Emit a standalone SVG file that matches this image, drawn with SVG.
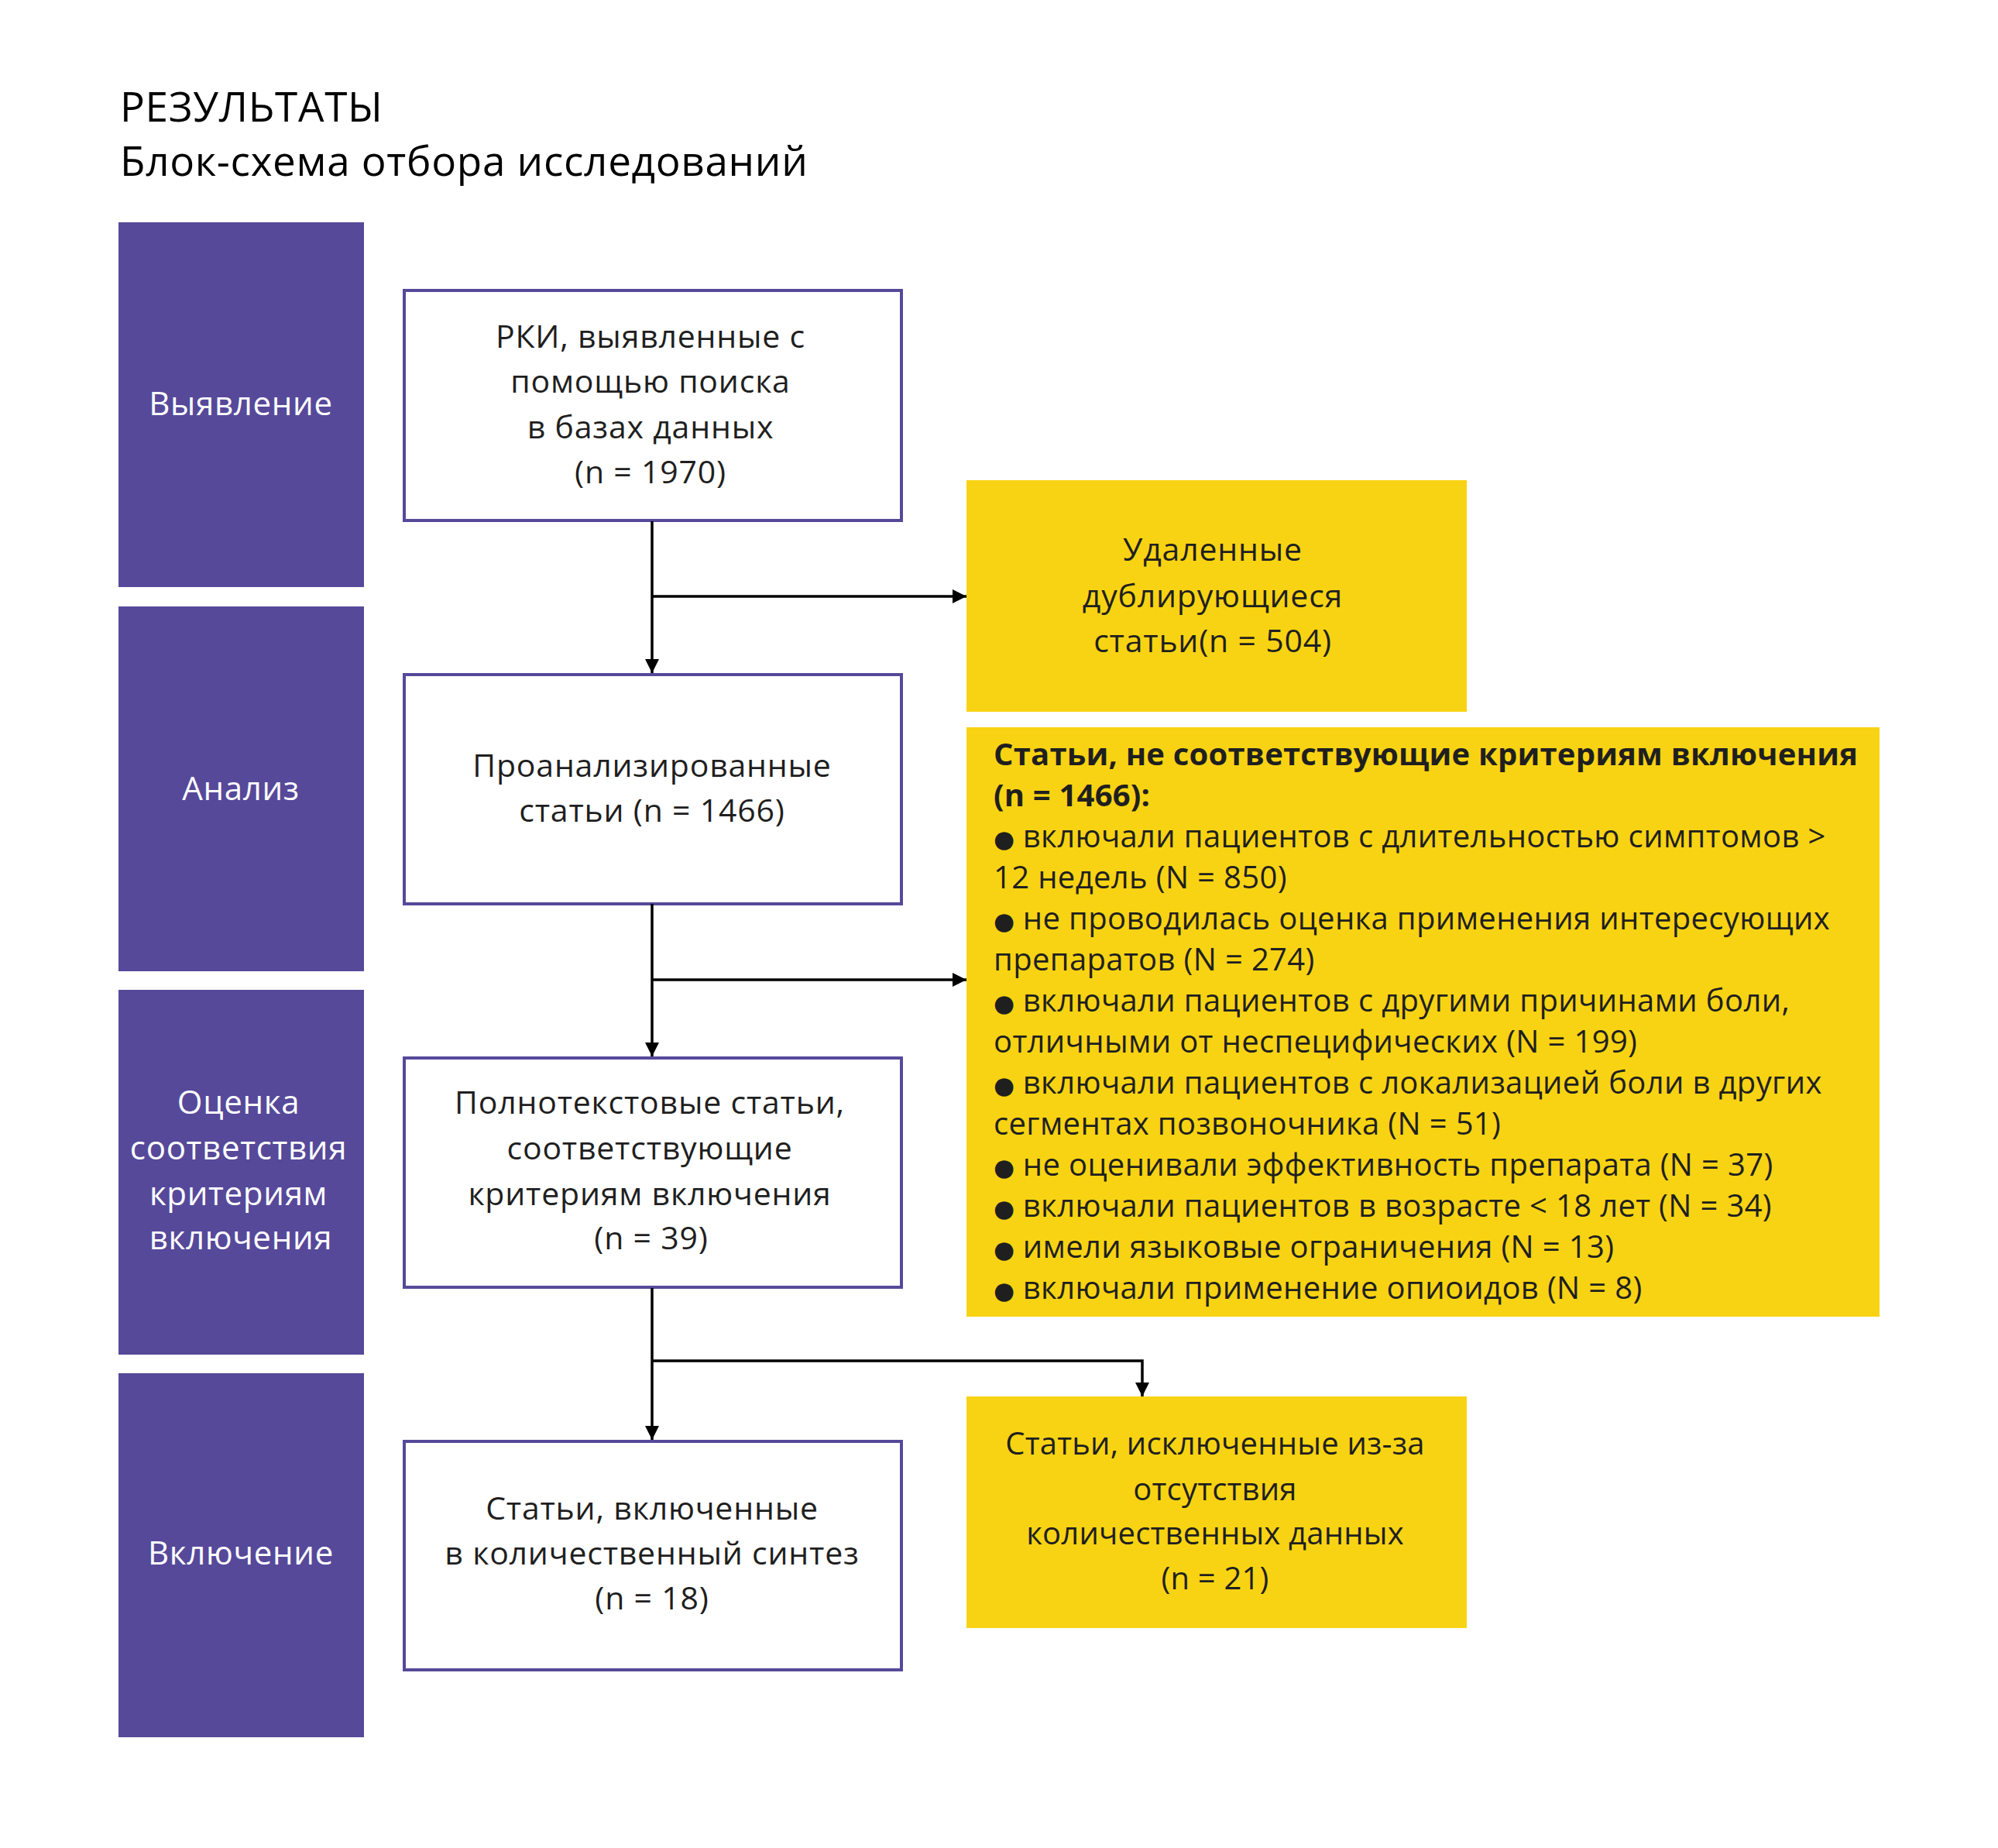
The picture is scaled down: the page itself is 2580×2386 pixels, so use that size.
<svg xmlns="http://www.w3.org/2000/svg" width="2580" height="2386" viewBox="0 0 2580 2386">
<defs>
<style>
.t{font-family:"Open Sans","Noto Sans","DejaVu Sans",sans-serif;font-size:41px;letter-spacing:0.8px;fill:#1f1f1f}
.l{font-size:40px;letter-spacing:0.35px}
.b{font-weight:bold;letter-spacing:0.2px}
.y3{font-size:40px;letter-spacing:0.2px}
.bu{font-size:31px;letter-spacing:0}
.tc{text-anchor:middle}
.w{fill:#ffffff;font-size:42px;letter-spacing:0.7px}
.title{font-family:"Open Sans","Noto Sans","DejaVu Sans",sans-serif;font-size:53px;letter-spacing:0.7px;fill:#000}
.stage{fill:#56499a}
.box{fill:#ffffff;stroke:#56499a;stroke-width:4}
.ybox{fill:#f8d313}
.conn{fill:none;stroke:#000;stroke-width:3.5}
</style>
<marker id="arr" markerUnits="userSpaceOnUse" markerWidth="18" markerHeight="18" viewBox="0 0 16 16" refX="16" refY="8" orient="auto">
<path d="M0,0 L16,8 L0,16 Z" fill="#000"/>
</marker>
</defs>
<rect width="2580" height="2386" fill="#ffffff"/>
<g id="title">
<text class="title" x="155" y="157">РЕЗУЛЬТАТЫ</text>
<text class="title" x="155" y="227">Блок-схема отбора исследований</text>
</g>
<g id="stage1"><rect class="stage" x="153" y="287" width="317" height="471"/><text class="t tc w" x="311" y="536">Выявление</text></g>
<g id="stage2"><rect class="stage" x="153" y="783" width="317" height="471"/><text class="t tc w" x="311" y="1033">Анализ</text></g>
<g id="stage3"><rect class="stage" x="153" y="1278" width="317" height="471"/><text class="t tc w" x="308" y="1438">Оценка</text><text class="t tc w" x="308" y="1497">соответствия</text><text class="t tc w" x="308" y="1556">критериям</text><text class="t tc w" x="311" y="1613">включения</text></g>
<g id="stage4"><rect class="stage" x="153" y="1773" width="317" height="470"/><text class="t tc w" x="311" y="2020">Включение</text></g>
<g id="box1"><rect class="box" x="522" y="375" width="642" height="297"/><text class="t tc" x="840" y="449">РКИ, выявленные с</text><text class="t tc" x="840" y="507">помощью поиска</text><text class="t tc" x="840" y="566">в базах данных</text><text class="t tc" x="840" y="624">(n = 1970)</text></g>
<g id="box2"><rect class="box" x="522" y="871" width="642" height="296"/><text class="t tc" x="842" y="1003">Проанализированные</text><text class="t tc" x="842" y="1061">статьи (n = 1466)</text></g>
<g id="box3"><rect class="box" x="522" y="1366" width="642" height="296"/><text class="t tc" x="839" y="1438">Полнотекстовые статьи,</text><text class="t tc" x="839" y="1497">соответствующие</text><text class="t tc" x="839" y="1556">критериям включения</text><text class="t tc" x="841" y="1613">(n = 39)</text></g>
<g id="box4"><rect class="box" x="522" y="1861" width="642" height="295"/><text class="t tc" x="842" y="1962">Статьи, включенные</text><text class="t tc" x="842" y="2020">в количественный синтез</text><text class="t tc" x="842" y="2078">(n = 18)</text></g>
<g id="excl1"><rect class="ybox" x="1248" y="620" width="646" height="299"/><text class="t tc" x="1566" y="724">Удаленные</text><text class="t tc" x="1566" y="784">дублирующиеся</text><text class="t tc" x="1566" y="842">статьи(n = 504)</text></g>
<g id="excl2"><rect class="ybox" x="1248" y="939" width="1179" height="761"/>
<text class="t l b" x="1283" y="988">Статьи, не соответствующие критериям включения</text>
<text class="t l b" x="1283" y="1041">(n = 1466):</text>
<text class="t l" x="1283" y="1094"><tspan class="bu">●</tspan> включали пациентов с длительностью симптомов &gt;</text>
<text class="t l" x="1283" y="1147">12 недель (N = 850)</text>
<text class="t l" x="1283" y="1200"><tspan class="bu">●</tspan> не проводилась оценка применения интересующих</text>
<text class="t l" x="1283" y="1253">препаратов (N = 274)</text>
<text class="t l" x="1283" y="1306"><tspan class="bu">●</tspan> включали пациентов с другими причинами боли,</text>
<text class="t l" x="1283" y="1359">отличными от неспецифических (N = 199)</text>
<text class="t l" x="1283" y="1412"><tspan class="bu">●</tspan> включали пациентов с локализацией боли в других</text>
<text class="t l" x="1283" y="1465">сегментах позвоночника (N = 51)</text>
<text class="t l" x="1283" y="1518"><tspan class="bu">●</tspan> не оценивали эффективность препарата (N = 37)</text>
<text class="t l" x="1283" y="1571"><tspan class="bu">●</tspan> включали пациентов в возрасте &lt; 18 лет (N = 34)</text>
<text class="t l" x="1283" y="1624"><tspan class="bu">●</tspan> имели языковые ограничения (N = 13)</text>
<text class="t l" x="1283" y="1677"><tspan class="bu">●</tspan> включали применение опиоидов (N = 8)</text>
</g>
<g id="excl3"><rect class="ybox" x="1248" y="1803" width="646" height="299"/><text class="t tc y3" x="1569" y="1878">Статьи, исключенные из-за</text><text class="t tc y3" x="1569" y="1937">отсутствия</text><text class="t tc y3" x="1569" y="1994">количественных данных</text><text class="t tc y3" x="1569" y="2052">(n = 21)</text></g>
<g id="connectors">
<path class="conn" d="M842,673 V869" marker-end="url(#arr)"/>
<path class="conn" d="M842,770 H1248" marker-end="url(#arr)"/>
<path class="conn" d="M842,1167 V1364" marker-end="url(#arr)"/>
<path class="conn" d="M842,1265 H1248" marker-end="url(#arr)"/>
<path class="conn" d="M842,1663 V1859" marker-end="url(#arr)"/>
<path class="conn" d="M842,1757 H1475 V1803" marker-end="url(#arr)"/>
</g>
</svg>
